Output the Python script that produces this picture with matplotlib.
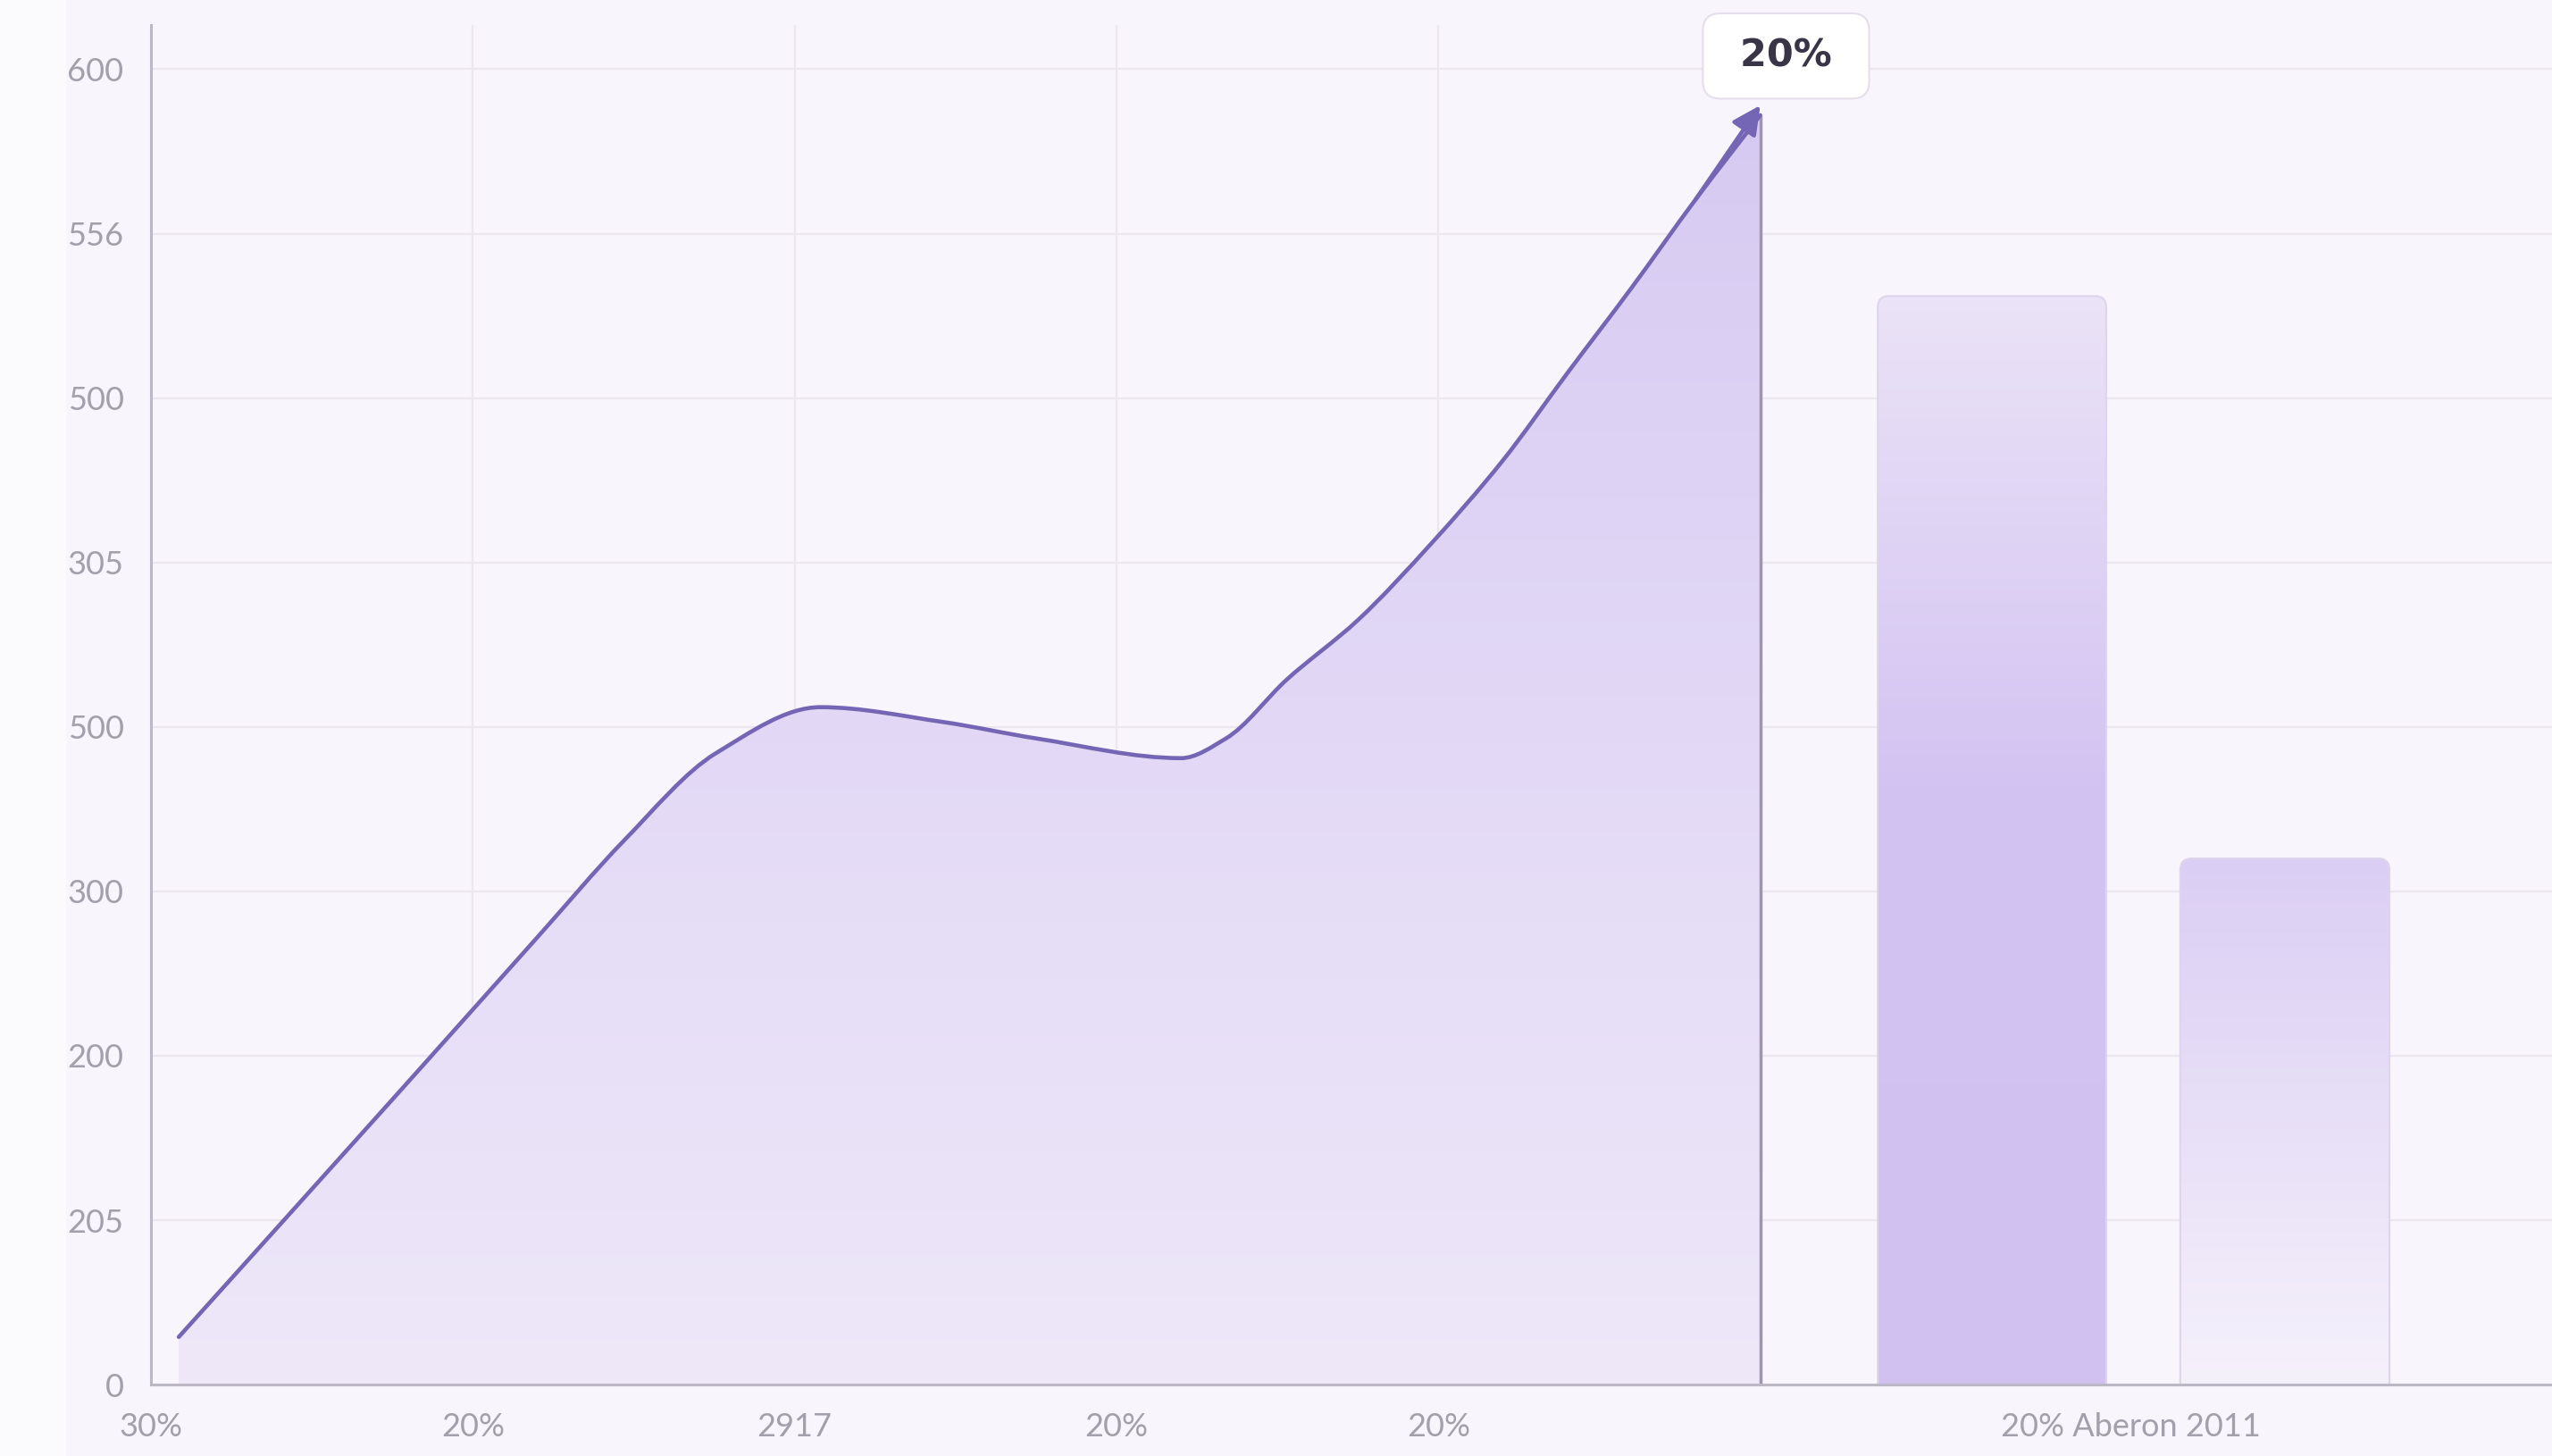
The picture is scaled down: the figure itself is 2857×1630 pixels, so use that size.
import numpy as np
import matplotlib.pyplot as plt
from matplotlib.colors import LinearSegmentedColormap
from matplotlib.patches import FancyBboxPatch, PathPatch, FancyArrowPatch, Rectangle
from matplotlib.path import Path

# line / area series
line_x = [0.086, 0.78, 1.20, 1.47, 1.755, 2.08, 2.46, 2.75, 3.20, 3.34, 3.53, 3.75,
          3.98, 4.20, 4.40, 4.60, 4.80, 5.00]
line_y = [29, 180, 272, 331, 384, 412, 403, 393, 381, 393, 429, 465,
          512, 562, 615, 667, 721, 772]

# bars
bar_x = [5.72, 6.63]
bar_h = [662, 320]
bar_w = [0.71, 0.65]

x_ticks = [0, 1, 2, 3, 4, 6.15]
x_labels = ["30%", "20%", "2917", "20%", "20%", "20% Aberon 2011"]
y_ticks = [0, 100, 200, 300, 400, 500, 600, 700, 800]
y_labels = ["0", "205", "200", "300", "500", "305", "500", "556", "600"]
peak_label = "20%"

bg = "#f8f5fc"
line_col = "#7466b4"


def smooth_path(xs, ys):
    # monotone cubic (pchip style tangents) drawn as bezier segments
    x = np.asarray(xs, float)
    y = np.asarray(ys, float)
    h = np.diff(x)
    d = np.diff(y) / h
    m = np.zeros_like(x)
    m[0], m[-1] = d[0], d[-1]
    for i in range(1, len(x) - 1):
        if d[i - 1] * d[i] <= 0:
            m[i] = 0
        else:
            w1 = 2 * h[i] + h[i - 1]
            w2 = h[i] + 2 * h[i - 1]
            m[i] = (w1 + w2) / (w1 / d[i - 1] + w2 / d[i])
    verts = [(x[0], y[0])]
    codes = [Path.MOVETO]
    for i in range(len(x) - 1):
        verts += [(x[i] + h[i] / 3, y[i] + m[i] * h[i] / 3),
                  (x[i + 1] - h[i] / 3, y[i + 1] - m[i + 1] * h[i] / 3),
                  (x[i + 1], y[i + 1])]
        codes += [Path.CURVE4] * 3
    return verts, codes


fig = plt.figure(figsize=(28.57, 16.30), dpi=100, facecolor=bg)
fig.patches.append(Rectangle((0, 0), 0.026, 1, transform=fig.transFigure,
                             facecolor="#fbfafd", edgecolor="none", zorder=0))
ax = fig.add_axes([0.0592, 0.049, 0.9408, 0.934], facecolor=bg)

ax.set_xlim(0, 7.46)
ax.set_ylim(0, 827)

# grid
ax.set_axisbelow(True)
ax.yaxis.grid(True, color="#ebe6f0", lw=1.6)
ax.vlines(x_ticks[1:5], 0, 827, color="#ebe6f0", lw=1.6, zorder=0.5)

# area with vertical gradient
lv, lc = smooth_path(line_x, line_y)
av = lv + [(line_x[-1], 0), (line_x[0], 0), (line_x[0], line_y[0])]
ac = lc + [Path.LINETO, Path.LINETO, Path.CLOSEPOLY]
area = PathPatch(Path(av, ac), facecolor="none", edgecolor="none")
ax.add_patch(area)
area_cmap = LinearSegmentedColormap.from_list("area", ["#eee8f9", "#e3d9f6", "#d7caf2"])
grad = np.linspace(0, 1, 256).reshape(-1, 1)
im = ax.imshow(grad, cmap=area_cmap, origin="lower", aspect="auto",
               extent=[line_x[0], line_x[-1], 0, max(line_y)], zorder=1)
im.set_clip_path(area)

# vertical edge of the area
ax.vlines(line_x[-1], 0, line_y[-1], color="#9d96ad", lw=2.5, zorder=2)

# line and arrow head
ax.add_patch(PathPatch(Path(lv, lc), facecolor="none", edgecolor=line_col,
                       lw=3.3, capstyle="round", zorder=3))
arr = FancyArrowPatch((line_x[-2], line_y[-2]), (line_x[-1], line_y[-1] + 6),
                      arrowstyle="-|>", mutation_scale=48, color=line_col,
                      lw=3.3, shrinkA=0, shrinkB=0, zorder=4)
ax.add_patch(arr)

# bars with gradients
bar_maps = [
    LinearSegmentedColormap.from_list("b1", [(0, "#d0c1f0"), (0.55, "#d3c3f2"), (1, "#ebe3f7")]),
    LinearSegmentedColormap.from_list("b2", [(0, "#f5f1fb"), (1, "#dbcef4")]),
]
bars = ax.bar(bar_x, bar_h, width=bar_w, color="none", edgecolor="none")
for b, cm in zip(bars, bar_maps):
    x0, w, h = b.get_x(), b.get_width(), b.get_height()
    shape = FancyBboxPatch((x0, -30), w, h + 30,
                           boxstyle="round,pad=0,rounding_size=0.035",
                           mutation_aspect=200, facecolor="none",
                           edgecolor="#ddd5ea", lw=1.5, zorder=2)
    ax.add_patch(shape)
    bim = ax.imshow(grad, cmap=cm, origin="lower", aspect="auto",
                    extent=[x0, x0 + w, 0, h], zorder=1.5)
    bim.set_clip_path(shape)

# peak label box
ax.text(line_x[-1] + 0.08, 808, " " + peak_label + " ", ha="center", va="center",
        fontsize=31, fontweight="bold", color="#3a3447", family="DejaVu Sans",
        bbox=dict(boxstyle="round,pad=0.62,rounding_size=0.45", facecolor="white",
                  edgecolor="#e4dfea", lw=1.5), zorder=6)

ax.set_xlim(0, 7.46)
ax.set_ylim(0, 827)

# axes styling
for s in ["top", "right"]:
    ax.spines[s].set_visible(False)
for s in ["left", "bottom"]:
    ax.spines[s].set_color("#bcb7c5")
    ax.spines[s].set_linewidth(2.2)
    ax.spines[s].set_zorder(5)

ax.set_xticks(x_ticks)
ax.set_xticklabels(x_labels)
ax.set_yticks(y_ticks)
ax.set_yticklabels(y_labels)
ax.tick_params(axis="both", length=0, labelsize=26, labelcolor="#a39fab")
ax.tick_params(axis="y", pad=22)
ax.tick_params(axis="x", pad=22)
for lab in ax.get_xticklabels() + ax.get_yticklabels():
    lab.set_family("Lato")

fig.savefig("out.png", dpi=100, facecolor=bg)
